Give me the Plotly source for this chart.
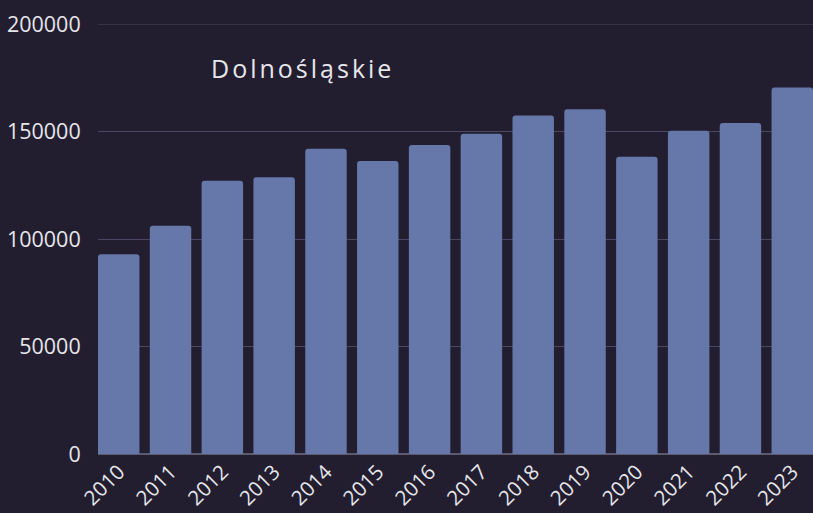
import plotly.graph_objects as go

years = ["2010", "2011", "2012", "2013", "2014", "2015", "2016",
         "2017", "2018", "2019", "2020", "2021", "2022", "2023"]
values = [92900, 106200, 127100, 128700, 142000, 136300, 143700,
          149000, 157500, 160300, 138300, 150300, 154000, 170500]
y_ticks = [0, 50000, 100000, 150000, 200000]
title_text = "Dolnośląskie"

BG = "#221e30"
BAR = "#6677aa"
GRID = "#4a4760"
TXT = "#e6e6ea"

fig = go.Figure(go.Bar(x=years, y=values, marker=dict(color=BAR, line=dict(width=0))))

fig.update_layout(
    width=813, height=513,
    paper_bgcolor=BG, plot_bgcolor=BG,
    margin=dict(l=98, r=0, t=24, b=59, autoexpand=False),
    bargap=0.2,
    barcornerradius=3,
    showlegend=False,
    font=dict(family="Open Sans", color=TXT, size=21),
    xaxis=dict(type="category", range=[-0.4, 13.4], tickangle=-45,
               automargin=False, ticklabelstandoff=1,
               showgrid=False, showline=False, ticks="",
               tickfont=dict(size=20.5, color=TXT)),
    yaxis=dict(range=[y_ticks[0], y_ticks[-1]], tickvals=y_ticks,
               ticktext=[str(v) for v in y_ticks], automargin=False,
               showgrid=True, gridcolor=GRID, gridwidth=1,
               zeroline=True, zerolinecolor="#5c5a6e", zerolinewidth=2,
               ticks="outside", ticklen=12, tickcolor=BG,
               tickfont=dict(size=21.5, color=TXT)),
    shapes=[dict(type="line", xref="paper", yref="y", x0=0, x1=1,
                 y0=y_ticks[-1], y1=y_ticks[-1], line=dict(color=GRID, width=1),
                 layer="below")],
    annotations=[dict(text=title_text, xref="paper", yref="paper",
                      x=0.18, y=0.898, xanchor="left", yanchor="middle",
                      showarrow=False,
                      font=dict(family="Open Sans", size=25, color=TXT))],
)

post = """
document.body.style.margin = '0';
document.body.style.background = '#221e30';
var els = document.querySelectorAll('.annotation-text');
els.forEach(function(e){ e.style.letterSpacing = '3px'; });
"""
fig.write_html("out.html", post_script=post, config={"displayModeBar": False})
